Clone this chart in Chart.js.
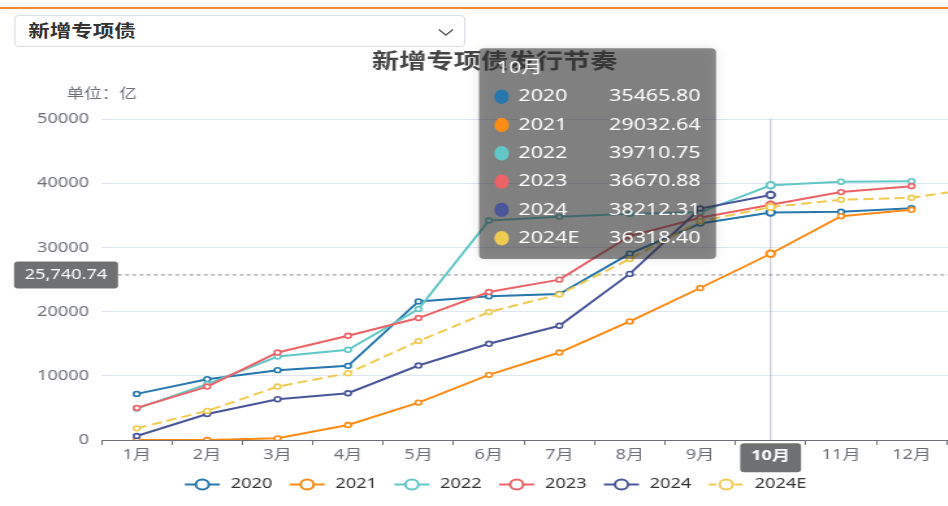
<!DOCTYPE html>
<html>
<head>
<meta charset="utf-8">
<script src="https://cdn.jsdelivr.net/npm/chart.js@4.4.1/dist/chart.umd.min.js"></script>
<style>
  html, body { margin: 0; padding: 0; background: #fff; }
  body { width: 948px; height: 506px; overflow: hidden; position: relative; }
  .topline { position: absolute; left: 0; top: 6.5px; width: 948px; height: 2px; background: #ef8a2f; }
  #wrap { position: absolute; left: 0; top: 0; width: 788px; height: 506px;
          transform: scaleX(1.3); transform-origin: 0 0; }
  #chart { position: absolute; left: 0; top: 0; }
  .select { position: absolute; left: 10.8px; top: 15px; width: 347.7px; height: 32px;
            box-sizing: border-box; border: 1px solid #dcdfe6; border-radius: 4px; background: #fff;
            font: bold 16.5px 'Microsoft YaHei', 'Noto Sans', 'Noto Sans CJK SC', sans-serif;
            color: #333; line-height: 30px; padding-left: 10px; z-index: 2; }
  .select svg { position: absolute; left: 325px; top: 13px; }
</style>
</head>
<body>
<div class="topline"></div>
<div id="wrap">
  <canvas id="chart" width="788" height="506"></canvas>
  <div class="select">新增专项债<svg width="12" height="7" viewBox="0 0 12 7"><polyline points="0.5,0.5 6,6 11.5,0.5" fill="none" stroke="#606266" stroke-width="1.3"/></svg></div>
</div>
<script>
const FONT = "'Microsoft YaHei', 'Noto Sans', 'Noto Sans CJK SC', sans-serif";

// categories (last one lies beyond the visible edge)
const months = ["1月", "2月", "3月", "4月", "5月", "6月", "7月", "8月", "9月", "10月", "11月", "12月", "次年1月"];
const seriesNames = ["2020", "2021", "2022", "2023", "2024", "2024E"];
const seriesColors = ["#2577ad", "#fa8c16", "#63c7c7", "#eb6267", "#4a5699", "#f0cb52"];

// 累计发行（亿）
const v2020 = [7190, 9480, 10890, 11560, 21610, 22400, 22760, 29060, 33750, 35465.80, 35580, 36150, null];
const v2021 = [0, 0, 260, 2340, 5830, 10160, 13640, 18490, 23700, 29032.64, 34900, 35890, null];
const v2022 = [4900, 8700, 13020, 14060, 20420, 34220, 34790, 35260, 35500, 39710.75, 40270, 40360, null];
const v2023 = [5000, 8330, 13640, 16250, 19010, 23070, 25000, 31800, 34640, 36670.88, 38650, 39580, null];
const v2024 = [620, 4060, 6360, 7290, 11610, 15000, 17810, 25900, 36090, 38212.31, null, null, null];
const v2024E = [1820, 4530, 8330, 10420, 15420, 19950, 22700, 28230, 34110, 36318.40, 37450, 37770, 39400];
const seriesValues = [v2020, v2021, v2022, v2023, v2024, v2024E];

const yMin = 0, yMax = 50000, yStep = 10000;
const hoverIndex = 9;          // 10月
const crossValue = 25740.74;   // horizontal pointer

const datasets = seriesNames.map((name, i) => ({
  label: name,
  data: seriesValues[i],
  borderColor: seriesColors[i],
  backgroundColor: "#fff",
  pointBackgroundColor: "#fff",
  pointBorderColor: seriesColors[i],
  borderWidth: 2,
  borderDash: name === "2024E" ? [8, 4] : [],
  pointRadius: (c) => (c.dataIndex === hoverIndex ? 3.2 : 2.4),
  pointBorderWidth: (c) => (c.dataIndex === hoverIndex ? 2 : 1.6),
  tension: 0,
  order: seriesNames.length - i,
}));

function roundRect(ctx, x, y, w, h, r) {
  ctx.beginPath();
  ctx.moveTo(x + r, y);
  ctx.arcTo(x + w, y, x + w, y + h, r);
  ctx.arcTo(x + w, y + h, x, y + h, r);
  ctx.arcTo(x, y + h, x, y, r);
  ctx.arcTo(x, y, x + w, y, r);
  ctx.closePath();
}

// crosshair lines behind the series
const crossLines = {
  id: "crossLines",
  beforeDatasetsDraw(chart) {
    const { ctx, chartArea, scales } = chart;
    const x = scales.x.getPixelForValue(hoverIndex);
    const y = scales.y.getPixelForValue(crossValue);
    ctx.save();
    ctx.strokeStyle = "#b3b7c2";
    ctx.lineWidth = 1;
    ctx.beginPath();
    ctx.moveTo(x, chartArea.top);
    ctx.lineTo(x, chartArea.bottom);
    ctx.stroke();
    ctx.strokeStyle = "#8a8a8a";
    ctx.setLineDash([3, 2.5]);
    ctx.beginPath();
    ctx.moveTo(90.8, y);
    ctx.lineTo(chart.width, y);
    ctx.stroke();
    ctx.restore();
  },
};

// title, unit, pointer labels, legend and tooltip
const decor = {
  id: "decor",
  afterDraw(chart) {
    const { ctx, scales } = chart;
    ctx.save();

    // title
    ctx.fillStyle = "#464646";
    ctx.font = "bold 21px " + FONT;
    ctx.textAlign = "center";
    ctx.textBaseline = "middle";
    ctx.fillText("新增专项债发行节奏", 380.6, 62);

    // unit
    ctx.fillStyle = "#6e7079";
    ctx.font = "13.5px " + FONT;
    ctx.textAlign = "left";
    ctx.fillText("单位：亿", 51.3, 93.7);

    // y pointer label
    const py = scales.y.getPixelForValue(crossValue);
    ctx.fillStyle = "#6f7072";
    roundRect(ctx, 10.8, py - 13.5, 80, 27, 3);
    ctx.fill();
    ctx.fillStyle = "#fff";
    ctx.font = "14px " + FONT;
    ctx.textAlign = "center";
    ctx.fillText(crossValue.toLocaleString("en-US", { minimumFractionDigits: 2 }), 50.8, py);

    // x pointer label
    const px = scales.x.getPixelForValue(hoverIndex);
    ctx.fillStyle = "#6f7072";
    roundRect(ctx, px - 23.4, 443.3, 46.8, 29, 3);
    ctx.fill();
    ctx.fillStyle = "#fff";
    ctx.font = "bold 14px " + FONT;
    ctx.fillText(months[hoverIndex], px, 456.5);

    // legend
    chart.data.datasets.forEach((ds, i) => {
      const x0 = 142.2 + i * 80.6;
      const ly = 484.5;
      ctx.strokeStyle = ds.borderColor;
      ctx.lineWidth = 2;
      ctx.setLineDash(ds.borderDash.length ? [6, 4] : []);
      ctx.beginPath();
      ctx.moveTo(x0, ly);
      ctx.lineTo(x0 + 26.9, ly);
      ctx.stroke();
      ctx.setLineDash([]);
      ctx.fillStyle = "#fff";
      ctx.beginPath();
      ctx.arc(x0 + 13.45, ly, 5, 0, Math.PI * 2);
      ctx.fill();
      ctx.stroke();
      ctx.fillStyle = "#333";
      ctx.font = "14px " + FONT;
      ctx.textAlign = "left";
      ctx.fillText(ds.label, x0 + 35.2, ly);
    });

    // tooltip
    ctx.shadowColor = "rgba(0,0,0,0.2)";
    ctx.shadowBlur = 10;
    ctx.fillStyle = "rgba(50,50,50,0.56)";
    roundRect(ctx, 368.5, 48.3, 182.3, 210.7, 4);
    ctx.fill();
    ctx.shadowColor = "transparent";
    ctx.shadowBlur = 0;
    ctx.font = "16.5px " + FONT;
    ctx.fillStyle = "#fff";
    ctx.textAlign = "left";
    ctx.fillText(months[hoverIndex], 382, 68);
    chart.data.datasets.forEach((ds, i) => {
      const y = 96.7 + i * 28.3;
      ctx.fillStyle = ds.borderColor;
      ctx.beginPath();
      ctx.ellipse(385.9, y, 5.6, 7.2, 0, 0, Math.PI * 2);
      ctx.fill();
      ctx.fillStyle = "#fff";
      ctx.textAlign = "left";
      ctx.fillText(ds.label, 398.7, y);
      ctx.textAlign = "right";
      ctx.fillText(ds.data[hoverIndex].toFixed(2), 539, y);
    });

    ctx.restore();
  },
};

new Chart(document.getElementById("chart"), {
  type: "line",
  data: { labels: months, datasets: datasets },
  options: {
    responsive: false,
    devicePixelRatio: 1,
    animation: false,
    events: [],
    layout: { padding: { left: 0, right: 2.4, top: 119.3, bottom: 36 } },
    plugins: {
      legend: { display: false },
      title: { display: false },
      tooltip: { enabled: false },
    },
    scales: {
      x: {
        offset: true,
        grid: { offset: true, drawOnChartArea: false, drawTicks: true, tickLength: 5, color: "#6e7079" },
        border: { color: "#6e7079", width: 1 },
        ticks: { color: "#6e7079", font: { size: 14, family: FONT }, padding: 2, autoSkip: false, maxRotation: 0 },
        afterFit(s) { s.height = 30; },
      },
      y: {
        min: yMin,
        max: yMax,
        grid: { color: "#e0e6f1", drawTicks: false },
        border: { display: false },
        ticks: {
          stepSize: yStep,
          color: "#6e7079",
          font: { size: 14, family: FONT },
          padding: 9.6,
          callback: (v) => String(v),
        },
        afterFit(s) { s.width = 78.1; },
      },
    },
  },
  plugins: [crossLines, decor],
});
</script>
</body>
</html>
